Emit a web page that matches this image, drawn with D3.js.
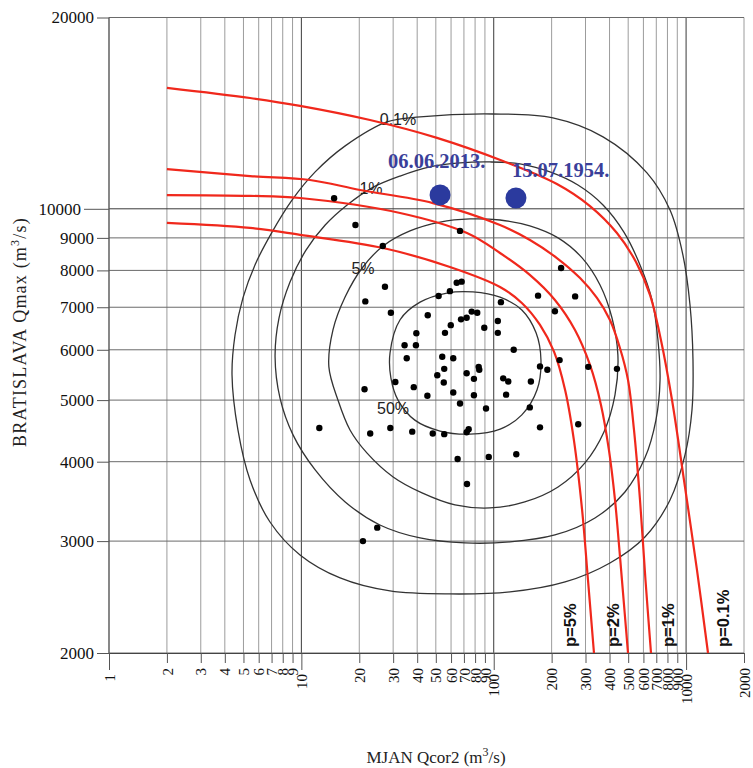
<!DOCTYPE html>
<html>
<head>
<meta charset="utf-8">
<script src="https://cdn.jsdelivr.net/npm/d3@7/dist/d3.min.js"></script>
<style>
  body { margin: 0; background: #fff; }
  svg { display: block; }
</style>
</head>
<body>
<svg id="chart" width="753" height="768"></svg>
<script>
// ---- Axis ticks ----
const xTicks = [1,2,3,4,5,6,7,8,9,10,20,30,40,50,60,70,80,90,100,200,300,400,500,600,700,800,900,1000,2000];
const xDecades = [1,10,100,1000];
const yTicks = [2000,3000,4000,5000,6000,7000,8000,9000,10000,20000];
const yDecades = [10000];

// ---- Observed annual pairs: [MJAN Qcor2, Bratislava Qmax] (m3/s) ----
const observed = [
  [14.8,10390],[19.1,9430],[66.8,9230],[26.5,8740],[27.2,7540],[64.2,7650],[68.1,7680],
  [21.5,7150],[51.7,7290],[59.2,7420],[29.2,6860],[45.4,6800],[67.6,6700],[72.3,6740],
  [76.8,6890],[82.1,6860],[105,6660],[59.8,6560],[89.3,6500],[39.6,6370],[55.8,6380],
  [105,6380],[34.4,6100],[39.4,6100],[35.3,5820],[54.0,5850],[61.6,5820],[55.3,5600],
  [83.5,5640],[84.1,5580],[50.9,5470],[72.3,5510],[78.9,5400],[30.8,5340],[55.0,5330],
  [21.3,5200],[38.4,5240],[45.2,5080],[61.6,5140],[78.9,5090],[66.8,4940],[91.2,4850],
  [12.4,4520],[22.8,4430],[29.0,4520],[37.7,4460],[48.2,4430],[55.3,4420],[72.3,4450],
  [74.1,4500],[64.9,4040],[94.2,4070],
  [224,8070],[170,7300],[265,7280],[208,6900],[109,7130],[127,6000],
  [112,5410],[119,5350],[156,5350],[116,5100],[174,5650],[190,5580],[154,4870],
  [174,4530],[131,4110],[220,5780],[310,5640],[437,5600],[275,4580],[72.6,3690],
  [24.8,3150],[20.9,3000]
];

// ---- Historical floods ----
const eventDates = ["06.06.2013.", "15.07.1954."];
const eventMJAN  = [52.6, 130.5];
const eventQmax  = [10515, 10400];

// ---- Joint-probability contours ----
const contourNames = ["50%", "5%", "1%", "0.1%"];
const contour50 = [
  [28.9,5930],[32.6,6690],[41.4,7130],[57.1,7370],[78,7400],[107.8,7260],[140,6930],
  [166,6380],[176,5780],[168,5190],[140,4740],[108,4500],[75.3,4420],[52.6,4470],
  [38.9,4650],[31.8,5000],[29.2,5420]
];
const contour5 = [
  [13.9,5640],[14.6,6450],[16.9,7270],[20.7,8070],[26.6,8740],[36.7,9230],[52.6,9530],
  [75.3,9640],[107.8,9602],[154,9400],[216,9000],[288,8370],[357,7588],[412,6733],
  [442,5890],[427,5094],[374,4455],[298,3983],[216,3650],[145,3457],[95.6,3383],
  [62.9,3420],[42.4,3572],[30,3785],[21.9,4130],[17.9,4487],[15.5,5000]
];
const contour1 = [
  [7.3,5850],[7.65,6730],[8.73,7670],[10.57,8610],[13.3,9430],[17.3,10140],[23.3,10790],
  [32.6,11260],[46.6,11640],[66.8,11810],[95.6,11850],[137,11770],[196,11430],[274,10900],
  [370,10140],[475,9190],[576,8160],[665,7190],[714,6217],[732,5380],[697,4652],
  [611,4056],[481,3584],[336,3262],[208,3067],[121.5,2991],[70.9,2980],[41.4,3034],
  [25.6,3180],[16.9,3457],[11.8,3882],[9.05,4408],[7.74,5040]
];
const contour01 = [
  [4.36,5480],[4.52,6330],[4.97,7240],[5.74,8160],[7.04,9190],[8.94,10320],[11.8,11430],
  [16.9,12560],[27.9,13700],[41.4,13950],[99.1,14100],[203,13900],[370,12980],[626,11390],
  [825,9956],[963,8458],[1048,7058],[1086,5783],[1073,4825],[987,4100],[825,3482],
  [611,3045],[402,2771],[235,2587],[121.5,2495],[59.2,2477],[28.9,2504],[15.9,2625],
  [9.84,2853],[6.87,3215],[5.41,3743],[4.68,4487]
];
const contourLabelX = [29.95, 20.9, 23.0, 31.8];
const contourLabelY = [4860, 8069, 10785, 13845];

// ---- Joint exceedance probability curves (p) ----
const pNames = ["p=5%", "p=2%", "p=1%", "p=0.1%"];
const pCurve5 = [
  [2,9500],[5.41,9330],[9.84,9100],[26.6,8675],[59.2,8100],[107.8,7533],[140,7110],
  [174,6566],[206,5953],[235,5186],[261,4328],[288,3358],[309,2606],[332,2000]
];
const pCurve2 = [
  [2,10510],[5.41,10480],[9.84,10400],[32.6,9850],[72.6,9160],[107.8,8520],[154,7870],
  [208,7187],[264.5,6447],[316.5,5680],[361,4914],[397,4174],[427,3482],[448,2958],
  [464,2606],[499,2000]
];
const pCurve1 = [
  [2,11550],[5.41,11260],[11.09,11100],[20.17,10706],[48.3,10210],[107.8,9430],[154.3,8931],
  [213,8366],[281,7780],[344,7240],[402,6684],[453,6040],[499,5379],[536,4487],
  [576,3482],[615,2606],[657,2000]
];
const pCurve01 = [
  [2,15500],[5.41,14940],[9.84,14520],[22.74,13794],[50.7,12930],[111.7,11890],[213,10940],
  [316.5,10100],[437,9161],[549,8246],[649,7320],[740,6217],[845,5002],[975,3743],
  [1139,2702],[1300,2000]
];
const pLabelX = [249, 417, 805, 1555];

// ---- Layout ----
const svg = d3.select("#chart");
const pL = 109, pR = 744, pT = 17.5, pB = 653;
const x = d3.scaleLog().domain([1, 2000]).range([pL, pR]);
const y = d3.scaleLog().domain([2000, 20000]).range([pB, pT]);

const serif = "'Liberation Serif','Times New Roman',serif";
const sans = "'Liberation Sans',Arial,sans-serif";

// grid
const grid = svg.append("g");
grid.selectAll("line.v").data(xTicks.filter(d => d > 1)).join("line")
  .attr("x1", d => x(d)).attr("x2", d => x(d))
  .attr("y1", pT).attr("y2", pB)
  .attr("stroke", d => xDecades.includes(d) ? "#3a3a3a" : "#9c9c9c")
  .attr("stroke-width", 1);
grid.selectAll("line.h").data(yTicks).join("line")
  .attr("x1", pL).attr("x2", pR)
  .attr("y1", d => y(d)).attr("y2", d => y(d))
  .attr("stroke", d => yDecades.includes(d) ? "#3a3a3a" : "#6a6a6a")
  .attr("stroke-width", 1);
grid.append("line").attr("x1", pL).attr("x2", pL).attr("y1", pT).attr("y2", pB)
  .attr("stroke", "#555").attr("stroke-width", 1.4);

// x axis
const gx = svg.append("g").attr("transform", `translate(0,${pB})`)
  .call(d3.axisBottom(x).tickValues(xTicks).tickFormat(d3.format("d")).tickSizeOuter(0));
gx.select(".domain").attr("stroke", "#444");
gx.selectAll(".tick line").attr("y2", d => xDecades.includes(d) ? 17 : 10).attr("stroke", "#555");
gx.selectAll(".tick text")
  .attr("transform", "rotate(-90)")
  .attr("text-anchor", "end")
  .attr("x", d => xDecades.includes(d) ? -21 : -15)
  .attr("y", 0).attr("dy", "0.34em")
  .attr("font-family", serif).attr("font-size", 15).attr("fill", "#111");

// y axis
const gy = svg.append("g").attr("transform", `translate(${pL},0)`)
  .call(d3.axisLeft(y).tickValues(yTicks).tickFormat(d3.format("d")).tickSizeOuter(0));
gy.select(".domain").remove();
gy.selectAll(".tick line").attr("x2", d => yDecades.includes(d) ? -25 : -12).attr("stroke", "#555");
gy.selectAll(".tick text")
  .attr("x", d => yDecades.includes(d) ? -28 : -15)
  .attr("font-family", serif).attr("font-size", 17).attr("fill", "#111");

// axis titles
const xt = svg.append("text").attr("x", 436).attr("y", 763).attr("text-anchor", "middle")
  .attr("font-family", serif).attr("font-size", 17).attr("fill", "#222");
xt.append("tspan").text("MJAN Qcor2 (m");
xt.append("tspan").attr("dy", -7).attr("font-size", 12).text("3");
xt.append("tspan").attr("dy", 7).text("/s)");

const yt = svg.append("text").attr("transform", "translate(26,332) rotate(-90)").attr("text-anchor", "middle")
  .attr("font-family", serif).attr("font-size", 18).attr("letter-spacing", 1.2).attr("fill", "#222");
yt.append("tspan").text("BRATISLAVA Qmax (m");
yt.append("tspan").attr("dy", -7).attr("font-size", 12).text("3");
yt.append("tspan").attr("dy", 7).text("/s)");

// contours
const closed = d3.line().x(d => x(d[0])).y(d => y(d[1])).curve(d3.curveCatmullRomClosed.alpha(0.5));
[contour50, contour5, contour1, contour01].forEach(c => {
  svg.append("path").attr("d", closed(c)).attr("fill", "none")
    .attr("stroke", "#333").attr("stroke-width", 1.3);
});
contourNames.forEach((t, i) => {
  svg.append("text").attr("x", x(contourLabelX[i])).attr("y", y(contourLabelY[i]))
    .attr("text-anchor", "middle").attr("dy", "0.36em")
    .attr("font-family", sans).attr("font-size", 16).attr("fill", "#222").text(t);
});

// p curves
const open = d3.line().x(d => x(d[0])).y(d => y(d[1])).curve(d3.curveCatmullRom.alpha(0.5));
[pCurve5, pCurve2, pCurve1, pCurve01].forEach(c => {
  svg.append("path").attr("d", open(c)).attr("fill", "none")
    .attr("stroke", "#f0281c").attr("stroke-width", 2.2);
});
pNames.forEach((t, i) => {
  svg.append("text").attr("transform", `translate(${x(pLabelX[i])},${pB - 6}) rotate(-90)`)
    .attr("dy", "0.36em").attr("font-family", sans).attr("font-weight", "bold")
    .attr("font-size", 16.5).attr("fill", "#111").text(t);
});

// observations
svg.append("g").selectAll("circle").data(observed).join("circle")
  .attr("cx", d => x(d[0])).attr("cy", d => y(d[1])).attr("r", 3.2)
  .attr("fill", "#000");

// historical floods
const evOffX = [-52, -4], evOffY = [-27, -21];
eventDates.forEach((t, i) => {
  const cx = x(eventMJAN[i]), cy = y(eventQmax[i]);
  svg.append("circle").attr("cx", cx).attr("cy", cy).attr("r", 10.5).attr("fill", "#2b3a9e");
  svg.append("text").attr("x", cx + evOffX[i]).attr("y", cy + evOffY[i])
    .attr("font-family", serif).attr("font-weight", "bold").attr("font-size", 20.5)
    .attr("fill", "#3a3f9a").text(t);
});
</script>
</body>
</html>
